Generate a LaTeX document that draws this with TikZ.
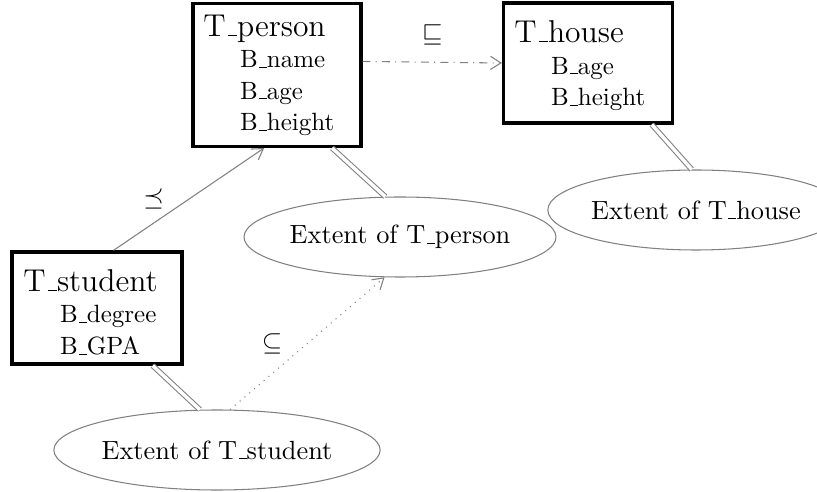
\documentclass[tikz,border=0pt]{standalone}
\usepackage{amssymb}
\usetikzlibrary{shapes.geometric,arrows.meta}
\tikzset{
  typebox/.style={draw,very thick,rectangle,inner sep=0pt,anchor=center},
  extent/.style={draw=gray,ellipse,inner sep=0pt,minimum height=30.4pt},
  inst/.style={draw=gray,double,double distance=1.3pt,thin},
  isa/.style={draw=gray,-{Straight Barb[length=4pt,width=5pt]}},
}
\newcommand{\us}{\leavevmode\kern.06em\vbox{\hrule width.3em}}
\newcommand{\attr}[1]{\hspace*{14pt}{\fontsize{9.5}{11}\selectfont B\us #1}}
\begin{document}
\begin{tikzpicture}[x=0.38pt,y=-0.38pt]
  \useasboundingbox (0,0) rectangle (817,492);

  % types
  \node[typebox,minimum width=63.8pt,minimum height=54.3pt] (pers) at (277,75)
    {\begin{tabular}{@{}p{56pt}@{}}{\large T\us person}\rule{0pt}{10pt}\\ \attr{name}\\ \attr{age}\\ \attr{height}\end{tabular}};
  \node[typebox,minimum width=64.2pt,minimum height=45.6pt] (house) at (588,63)
    {\begin{tabular}{@{}p{56pt}@{}}{\large T\us house}\rule{0pt}{12pt}\\ \attr{age}\\ \attr{height}\end{tabular}};
  \node[typebox,minimum width=64.6pt,minimum height=41.4pt] (stud) at (97,308)
    {\begin{tabular}{@{}p{56pt}@{}}{\large T\us student}\rule{0pt}{15pt}\\ \attr{degree}\\ \attr{GPA}\end{tabular}};

  % extents
  \node[extent,minimum width=96.9pt] (epers) at (400,237) {Extent of T\us person};
  \node[extent,minimum width=90.4pt] (ehouse) at (696,210) {Extent of T\us house};
  \node[extent,minimum width=100.7pt] (estud) at (217,450) {Extent of T\us student};

  % relations
  \draw[isa,dash dot] (pers.9) -- node[above=3pt,black] {$\sqsubseteq$} (house.west);
  \draw[isa] (stud.74) -- node[left=6pt,black] {$\preceq$} (pers.260);
  \draw[isa,dotted] (estud.72) -- node[left=6pt,black] {$\subseteq$} (epers.249);

  \draw[inst] (pers.-53) -- (epers.110);
  \draw[inst] (house.-44) -- (ehouse.96);
  \draw[inst] (stud.-46) -- (estud.113);
\end{tikzpicture}
\end{document}
